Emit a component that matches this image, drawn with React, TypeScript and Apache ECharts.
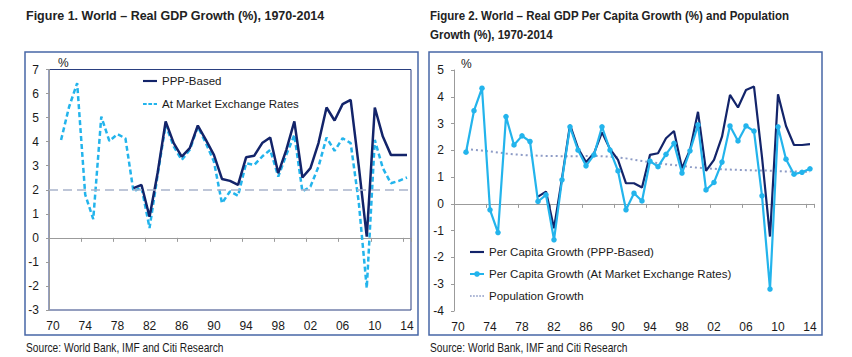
import React, { useEffect, useRef } from "react";
import * as echarts from "echarts";

const years = [
  "1970","1971","1972","1973","1974","1975","1976","1977","1978","1979",
  "1980","1981","1982","1983","1984","1985","1986","1987","1988","1989",
  "1990","1991","1992","1993","1994","1995","1996","1997","1998","1999",
  "2000","2001","2002","2003","2004","2005","2006","2007","2008","2009",
  "2010","2011","2012","2013","2014",
];

// Figure 1: Real GDP growth (%)
const gdpPPP = [
  null, null, null, null, null, null, null, null, null, null,
  2.07, 2.2, 0.88, 2.7, 4.84, 3.94, 3.38, 3.73, 4.67, 4.07,
  3.45, 2.45, 2.37, 2.2, 3.35, 3.41, 3.94, 4.17, 2.69, 3.66,
  4.84, 2.51, 2.9, 3.94, 5.42, 4.88, 5.56, 5.74, 3.0, 0.05,
  5.42, 4.21, 3.45, 3.45, 3.45,
];
const gdpMarket = [
  null, 4.07, 5.45, 6.43, 1.8, 0.78, 5.04, 4.03, 4.31, 4.14,
  1.93, 2.1, 0.41, 2.6, 4.7, 3.8, 3.24, 3.66, 4.62, 3.94,
  3.17, 1.44, 1.93, 1.75, 3.1, 3.03, 3.38, 3.66, 2.55, 3.45,
  4.28, 1.93, 2.13, 2.96, 4.17, 3.62, 4.14, 3.94, 1.5, -2.09,
  4.07, 2.9, 2.27, 2.37, 2.51,
];

// Figure 2: per capita growth and population growth (%)
const pcPPP = [
  null, null, null, null, null, null, null, null, null, null,
  0.27, 0.46, -0.91, 0.95, 2.95, 2.08, 1.56, 1.89, 2.67, 2.05,
  1.64, 0.77, 0.77, 0.61, 1.83, 1.89, 2.45, 2.72, 1.33, 2.01,
  3.44, 1.23, 1.64, 2.51, 4.07, 3.6, 4.25, 4.38, 1.75, -1.22,
  4.09, 2.91, 2.2, 2.2, 2.23,
];
const pcMarket = [
  null, 1.93, 3.48, 4.32, -0.22, -1.07, 3.26, 2.2, 2.54, 2.33,
  0.09, 0.34, -1.34, 0.9, 2.88, 2.01, 1.42, 1.83, 2.88, 2.01,
  1.23, -0.22, 0.4, 0.11, 1.6, 1.39, 1.85, 2.26, 1.15, 1.98,
  2.95, 0.52, 0.8, 1.56, 2.91, 2.35, 2.91, 2.72, 0.3, -3.18,
  2.88, 1.67, 1.11, 1.18, 1.31,
];
const popGrowth = [
  null, 2.05, 2.02, 1.99, 1.96, 1.92, 1.88, 1.85, 1.83, 1.81,
  1.8, 1.79, 1.79, 1.78, 1.78, 1.78, 1.79, 1.79, 1.78, 1.76,
  1.74, 1.7, 1.65, 1.6, 1.56, 1.52, 1.48, 1.45, 1.42, 1.38,
  1.35, 1.33, 1.31, 1.29, 1.28, 1.27, 1.26, 1.25, 1.25, 1.24,
  1.22, 1.21, 1.21, 1.2, 1.19,
];

const title1 = "Figure 1. World \u2013 Real GDP Growth (%), 1970-2014";
const title2 = "Figure 2. World \u2013 Real GDP Per Capita Growth (%) and Population\nGrowth (%), 1970-2014";
const sourceText = "Source: World Bank, IMF and Citi Research";

const NAVY = "#13246a";
const CYAN = "#23b4ec";
const POP = "#8e9cc6";
const GREY = "#9b9b9b";
const FRAME = "#4767a7";
const TXT = "#1a1a1a";
const NARROW = "'Liberation Sans Narrow', 'Arial Narrow', 'Liberation Sans', sans-serif";
const SANS = "'Liberation Sans', Arial, sans-serif";

const ICON_SOLID = "path://M0 0H17V2.6H0Z";
const ICON_DASH = "path://M0 0H4.5V2.6H0Z M6.5 0H11V2.6H6.5Z M13 0H17V2.6H13Z";
const ICON_DOT = "path://M0 0H2V2H0Z M3.75 0H5.75V2H3.75Z M7.5 0H9.5V2H7.5Z M11.25 0H13.25V2H11.25Z M15 0H17V2H15Z";

export default function App() {
  const ref = useRef<HTMLDivElement>(null);
  useEffect(() => {
    if (!ref.current) return;
    const chart = echarts.init(ref.current, undefined, { renderer: "svg" });
    const axisLabelStyle = { fontFamily: NARROW, fontSize: 12, color: TXT };
    const yAxisBase = (gi: number, min: number, max: number) => ({
      gridIndex: gi,
      type: "value",
      min,
      max,
      interval: 1,
      axisLine: { show: true, onZero: false, lineStyle: { color: GREY, width: 1 } },
      axisTick: { show: true, length: 3, lineStyle: { color: GREY } },
      splitLine: { show: false },
      axisLabel: { ...axisLabelStyle, margin: 10 },
    });
    const xLineAxis = (gi: number) => ({
      gridIndex: gi,
      type: "category",
      data: years,
      boundaryGap: true,
      axisLine: { show: true, onZero: true, lineStyle: { color: GREY, width: 1 } },
      axisTick: { show: true, interval: 3, length: 4, lineStyle: { color: GREY } },
      axisLabel: { show: false },
    });
    const xLabelAxis = (gi: number) => ({
      gridIndex: gi,
      type: "category",
      data: years,
      position: "bottom",
      boundaryGap: true,
      axisLine: { show: false, onZero: false },
      axisTick: { show: false },
      axisLabel: { ...axisLabelStyle, interval: 3, margin: 10, formatter: (v: string) => v.slice(2) },
    });
    const legendText = { fontFamily: SANS, fontSize: 11.5, color: TXT };

    chart.setOption({
      animation: false,
      title: [
        {
          text: title1,
          left: 26,
          top: 6,
          padding: 0,
          textStyle: { fontFamily: NARROW, fontSize: 12.5, fontWeight: "bold", color: "#222", lineHeight: 19 },
        },
      ],
      legend: [
        {
          data: [
            { name: "PPP-Based", icon: ICON_SOLID },
            { name: "At Market Exchange Rates", icon: ICON_DASH },
          ],
          orient: "vertical",
          left: 143,
          top: 75,
          padding: 0,
          itemWidth: 14,
          itemHeight: 14,
          itemGap: 11,
          textStyle: legendText,
        },
        {
          data: [
            { name: "Per Capita Growth (PPP-Based)", icon: ICON_SOLID },
            "Per Capita Growth (At Market Exchange Rates)",
            { name: "Population Growth", icon: ICON_DOT },
          ],
          orient: "vertical",
          left: 469,
          top: 246,
          padding: 0,
          itemWidth: 14,
          itemHeight: 7,
          itemGap: 10,
          textStyle: legendText,
        },
      ],
      grid: [
        { left: 49, top: 69.5, width: 362, height: 240.5, show: true, borderColor: "#2a3f80", borderWidth: 1, backgroundColor: "transparent" },
        { left: 454, top: 70, width: 360, height: 241 },
      ],
      xAxis: [xLineAxis(0), xLabelAxis(0), xLineAxis(1), xLabelAxis(1)],
      yAxis: [yAxisBase(0, -3, 7), yAxisBase(1, -4, 5)],
      series: [
        {
          name: "At Market Exchange Rates",
          type: "line",
          xAxisIndex: 0,
          yAxisIndex: 0,
          data: gdpMarket,
          symbol: "none",
          lineStyle: { color: CYAN, width: 2.5, type: [5, 3] },
          itemStyle: { color: CYAN },
          markLine: {
            silent: true,
            symbol: "none",
            label: { show: false },
            lineStyle: { color: "#a9b4cb", width: 1.5, type: [9, 5] },
            data: [{ yAxis: 2 }],
          },
        },
        {
          name: "PPP-Based",
          type: "line",
          xAxisIndex: 0,
          yAxisIndex: 0,
          data: gdpPPP,
          symbol: "none",
          lineStyle: { color: NAVY, width: 2.5 },
          itemStyle: { color: NAVY },
        },
        {
          name: "Population Growth",
          type: "line",
          xAxisIndex: 2,
          yAxisIndex: 1,
          data: popGrowth,
          symbol: "none",
          lineStyle: { color: POP, width: 2, type: [2, 3] },
          itemStyle: { color: POP },
        },
        {
          name: "Per Capita Growth (PPP-Based)",
          type: "line",
          xAxisIndex: 2,
          yAxisIndex: 1,
          data: pcPPP,
          symbol: "none",
          lineStyle: { color: NAVY, width: 2.2 },
          itemStyle: { color: NAVY },
        },
        {
          name: "Per Capita Growth (At Market Exchange Rates)",
          type: "line",
          xAxisIndex: 2,
          yAxisIndex: 1,
          data: pcMarket,
          symbol: "circle",
          symbolSize: 5.5,
          showSymbol: true,
          showAllSymbol: true,
          lineStyle: { color: CYAN, width: 2.2 },
          itemStyle: { color: CYAN },
        },
      ],
      graphic: [
        { type: "rect", shape: { x: 25, y: 52, width: 393, height: 283 }, style: { fill: "none", stroke: FRAME, lineWidth: 1.5 }, silent: true },
        { type: "rect", shape: { x: 429, y: 52, width: 393, height: 283 }, style: { fill: "none", stroke: FRAME, lineWidth: 1.5 }, silent: true },
        {
          type: "text",
          x: 430,
          y: 6,
          scaleX: 0.92,
          style: { text: title2, fontFamily: SANS, fontSize: 12.5, fontWeight: "bold", fill: "#222", lineHeight: 19, verticalAlign: "top" },
        },
        { type: "text", x: 58, y: 63, style: { text: "%", fontFamily: SANS, fontSize: 12, fill: TXT, verticalAlign: "middle" } },
        { type: "text", x: 461, y: 64, style: { text: "%", fontFamily: SANS, fontSize: 12, fill: TXT, verticalAlign: "middle" } },
        { type: "text", x: 26, y: 348, scaleX: 0.85, style: { text: sourceText, fontFamily: SANS, fontSize: 12, fill: TXT, verticalAlign: "middle" } },
        { type: "text", x: 430, y: 348, scaleX: 0.85, style: { text: sourceText, fontFamily: SANS, fontSize: 12, fill: TXT, verticalAlign: "middle" } },
      ],
    });
    return () => chart.dispose();
  }, []);
  return (
    <div
      ref={ref}
      style={{ position: "fixed", left: 0, top: 0, width: 852, height: 357, background: "#fff" }}
    />
  );
}
